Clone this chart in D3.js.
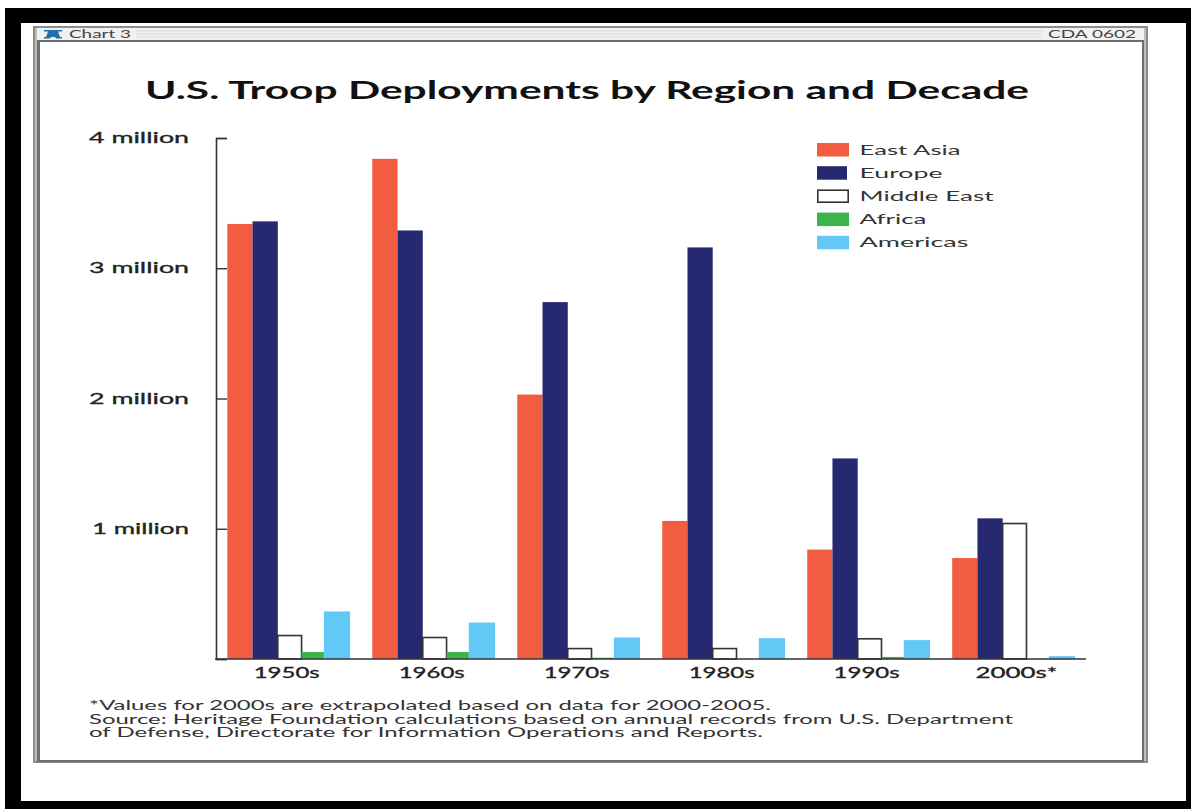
<!DOCTYPE html>
<html>
<head>
<meta charset="utf-8">
<title>U.S. Troop Deployments by Region and Decade</title>
<script src="https://cdn.jsdelivr.net/npm/d3@7/dist/d3.min.js"></script>
<style>
  html, body { margin: 0; padding: 0; background: #fff; overflow: hidden; }
  svg { display: block; }
  text { font-family: Lato, "Open Sans", sans-serif; fill: #222; }
</style>
</head>
<body>
<svg id="chart" width="1191" height="809"></svg>
<script>
// Troop counts in millions, one array per region, one entry per decade.
const decades = ["1950s", "1960s", "1970s", "1980s", "1990s", "2000s*"];
const regions = ["East Asia", "Europe", "Middle East", "Africa", "Americas"];
const eastAsia   = [3.34, 3.84, 2.03, 1.06, 0.84, 0.775];
const europe     = [3.36, 3.29, 2.74, 3.16, 1.54, 1.08];
const middleEast = [0.18, 0.165, 0.08, 0.08, 0.155, 1.04];
const africa     = [0.054, 0.054, 0.01, 0, 0.016, 0];
const americas   = [0.365, 0.28, 0.165, 0.16, 0.145, 0.022];
const seriesValues = [eastAsia, europe, middleEast, africa, americas];
const regionColors = ["#f25c40", "#272970", "#ffffff", "#3bb54a", "#62c8f5"];
const yTicks = [1, 2, 3, 4];
const yTickLabels = ["1 million", "2 million", "3 million", "4 million"];
const chartTitle = "U.S. Troop Deployments by Region and Decade";
const footnotes = [
  "*Values for 2000s are extrapolated based on data for 2000-2005.",
  "Source: Heritage Foundation calculations based on annual records from U.S. Department",
  "of Defense, Directorate for Information Operations and Reports."
];

const svg = d3.select("#chart");

// Text set to an exact width, since the lettering is wide and evenly spaced.
function label(parent, str, x, y, width, size, opts = {}) {
  return parent.append("text")
    .attr("x", x).attr("y", y)
    .attr("font-size", size)
    .attr("font-weight", opts.weight || 400)
    .attr("textLength", width)
    .attr("lengthAdjust", "spacingAndGlyphs")
    .style("fill", opts.fill || "#222")
    .text(str);
}

// Black mat around the page.
svg.append("rect").attr("x", 5).attr("y", 8).attr("width", 1186).attr("height", 801).attr("fill", "#000");
svg.append("rect").attr("x", 21).attr("y", 23).attr("width", 1165).attr("height", 778).attr("fill", "#fff");

// Window frame: nested grey bands, then the white page.
const frame = svg.append("g");
[[33, 26, 1115, 737, "#8c8c8c"], [35, 28, 1111, 733, "#bdbdbd"], [37, 40, 1107, 722, "#6e6e6e"]]
  .forEach(([x, y, w, h, c]) => frame.append("rect").attr("x", x).attr("y", y).attr("width", w).attr("height", h).attr("fill", c));
frame.append("rect").attr("x", 40).attr("y", 42).attr("width", 1102).attr("height", 718).attr("fill", "#fff");

// Title bar with its pinstripes, bell icon and captions.
frame.append("rect").attr("x", 37).attr("y", 28).attr("width", 1107).attr("height", 12).attr("fill", "#f1f1f1");
[31, 34, 37].forEach(y => frame.append("line")
  .attr("x1", 136).attr("x2", 1042).attr("y1", y).attr("y2", y)
  .attr("stroke", "#dcdcdc").attr("stroke-width", 1));
frame.append("path")
  .attr("d", "M44 30h18v1.5h-4l2 5.5h2v1.5h-6l-1-1.5h-4l-1 1.5h-6v-1.5h2l2-5.5h-4z")
  .attr("fill", "#1f6fa8");
label(frame, "Chart 3", 69, 37.7, 62, 10.5, { fill: "#444" });
label(frame, "CDA 0602", 1048, 37.7, 88, 10.5, { fill: "#444" });

// Scales. The five bars of a decade do not share one width: Africa is narrowest, Americas widest.
const barShare = d3.scaleOrdinal().domain(regions).range([1.03, 1.03, 0.97, 0.91, 1.07]);
const x = d3.scaleBand().domain(decades).range([227.3, 1075]).paddingInner(0.153);
const shareTotal = d3.sum(regions, barShare);
const barWidth = region => x.bandwidth() * barShare(region) / shareTotal;
const barOffset = region => d3.sum(regions.slice(0, regions.indexOf(region)), barWidth);
const y = d3.scaleLinear().domain([0, 4]).range([659, 138]);

label(svg, chartTitle, 145, 98.5, 884, 24, { weight: 700, fill: "#111" });

// Bars, one group per region.
const barGroups = svg.append("g").selectAll("g")
  .data(regions)
  .join("g")
  .attr("fill", (d, i) => regionColors[i]);

barGroups.selectAll("rect")
  .data((region, r) => seriesValues[r].map((value, i) => ({ region, value, decade: decades[i] })))
  .join("rect")
  .filter(d => d.value > 0)
  .attr("x", d => x(d.decade) + barOffset(d.region))
  .attr("y", d => y(d.value))
  .attr("width", d => barWidth(d.region))
  .attr("height", d => y(0) - y(d.value))
  .attr("stroke", d => d.region === "Middle East" ? "#333" : "none")
  .attr("stroke-width", d => d.region === "Middle East" ? 1.6 : 0);

// Left axis: ticks point into the plot, labels sit well clear of the line.
const yAxis = svg.append("g")
  .attr("transform", "translate(216,0)")
  .call(d3.axisLeft(y)
    .tickValues([0, ...yTicks])
    .tickSize(-11)
    .tickPadding(27)
    .tickFormat(d => d === 0 ? "" : yTickLabels[yTicks.indexOf(d)]));
yAxis.selectAll(".domain").attr("stroke", "#333").attr("stroke-width", 1.6);
yAxis.selectAll(".tick line").attr("stroke", "#333").attr("stroke-width", 1.4);
yAxis.selectAll(".tick text")
  .attr("font-size", 14.5)
  .attr("stroke", "#222")
  .attr("stroke-width", 0.3)
  .attr("textLength", d => d === 1 ? 97 : 100)
  .attr("lengthAdjust", "spacingAndGlyphs");

// Bottom axis: only the category labels come from the axis, the baseline runs the full width.
const xAxis = svg.append("g")
  .attr("transform", "translate(0,659)")
  .call(d3.axisBottom(x).tickSize(0).tickPadding(9));
xAxis.select(".domain").remove();
xAxis.selectAll(".tick text")
  .attr("font-size", 14.5)
  .attr("stroke", "#222")
  .attr("stroke-width", 0.3)
  .attr("dx", d => d === "2000s*" ? 3 : -2)
  .attr("textLength", d => d === "2000s*" ? 82 : 66)
  .attr("lengthAdjust", "spacingAndGlyphs");
svg.append("line")
  .attr("x1", 215).attr("x2", 1086)
  .attr("y1", y(0)).attr("y2", y(0))
  .attr("stroke", "#333").attr("stroke-width", 1.6);

// Legend.
const legendTextWidths = [101, 83, 134, 67, 109];
const legend = svg.append("g").selectAll("g")
  .data(regions)
  .join("g")
  .attr("transform", (d, i) => `translate(817,${143 + i * 23.2})`);
legend.append("rect")
  .attr("x", (d, i) => i === 2 ? 0.8 : 0)
  .attr("y", (d, i) => i === 2 ? 0.8 : 0)
  .attr("width", (d, i) => i === 2 ? 30.4 : i === 1 ? 30 : 32)
  .attr("height", (d, i) => i === 2 ? 12 : 13.5)
  .attr("fill", (d, i) => regionColors[i])
  .attr("stroke", (d, i) => i === 2 ? "#333" : "none")
  .attr("stroke-width", (d, i) => i === 2 ? 1.6 : 0);
legend.each(function (d, i) {
  label(d3.select(this), d, 42.5, 11.5, legendTextWidths[i], 13.5, { fill: "#333" });
});

// Notes under the chart.
const noteWidths = [682, 924, 674];
footnotes.forEach((note, i) => label(svg, note, 89, 710 + i * 13.65, noteWidths[i], 12.5, { fill: "#333" }));
</script>
</body>
</html>
